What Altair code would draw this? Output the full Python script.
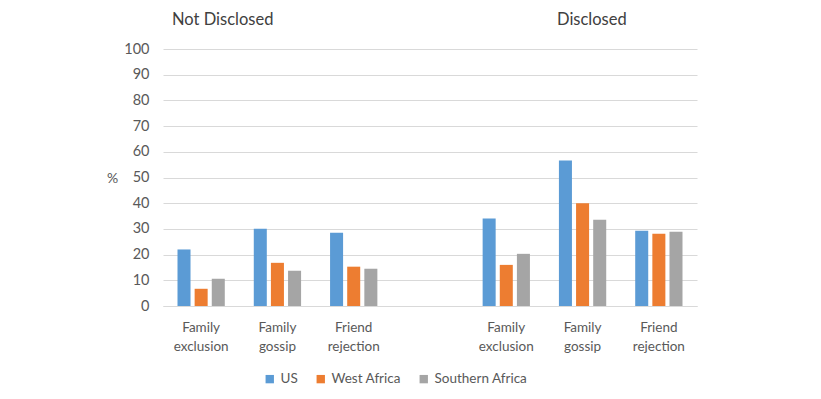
import altair as alt
import pandas as pd

groups = ["Not Disclosed", "Disclosed"]
categories = ["Family exclusion", "Family gossip", "Friend rejection"]
series = ["US", "West Africa", "Southern Africa"]
colors = ["#5B9BD5", "#ED7D31", "#A5A5A5"]

not_disclosed = {
    "US": [22.0, 30.1, 28.5],
    "West Africa": [6.7, 16.8, 15.3],
    "Southern Africa": [10.6, 13.7, 14.5],
}
disclosed = {
    "US": [34.0, 56.6, 29.3],
    "West Africa": [16.0, 40.0, 28.1],
    "Southern Africa": [20.3, 33.6, 28.9],
}

slots_nd = ["nd1", "nd2", "nd3"]
slots_d = ["d1", "d2", "d3"]
domain = slots_nd + ["gap"] + slots_d

rows = []
for slots, table in [(slots_nd, not_disclosed), (slots_d, disclosed)]:
    for s in series:
        for slot, cat, v in zip(slots, categories, table[s]):
            rows.append({"slot": slot, "category": cat, "series": s, "value": v})
df = pd.DataFrame(rows)

font = "Lato"

label_expr = (
    "(datum.value == 'nd1' || datum.value == 'd1') ? ['Family','exclusion'] : "
    "(datum.value == 'nd2' || datum.value == 'd2') ? ['Family','gossip'] : "
    "(datum.value == 'nd3' || datum.value == 'd3') ? ['Friend','rejection'] : ''"
)

bars = alt.Chart(df).mark_bar().encode(
    x=alt.X("slot:N", scale=alt.Scale(domain=domain, paddingInner=0.38, paddingOuter=0.19),
            axis=alt.Axis(title=None, labelExpr=label_expr, labelAngle=0, ticks=False,
                          domainColor="#D9D9D9", labelColor="#595959", labelFontSize=13.5,
                          labelFont=font, labelPadding=14, labelLineHeight=19,
                          labelBaseline="top")),
    xOffset=alt.XOffset("series:N", sort=series,
                        scale=alt.Scale(domain=series, paddingInner=0.24, paddingOuter=0)),
    y=alt.Y("value:Q", scale=alt.Scale(domain=[0, 100]),
            axis=alt.Axis(values=list(range(0, 101, 10)), title="%", titleAngle=0,
                          titleX=-51, titleY=129, titleAlign="center", titleBaseline="middle",
                          titleFontWeight="normal", titleFontSize=14, titleColor="#595959",
                          titleFont=font, labelFont=font, labelFontSize=14.5,
                          labelColor="#595959", ticks=False, domain=False, labelPadding=14,
                          gridColor="#D9D9D9")),
    color=alt.Color("series:N", sort=series,
                    scale=alt.Scale(domain=series, range=colors),
                    legend=alt.Legend(title=None, orient="none", direction="horizontal",
                                      legendX=100, legendY=323, symbolType="square",
                                      symbolSize=70, symbolStrokeWidth=0,
                                      labelFont=font, labelFontSize=13.5, labelColor="#595959",
                                      columnPadding=16, labelOffset=4)),
)

titles_df = pd.DataFrame({"t": [groups[0]], "t2": [groups[1]]})
t1 = alt.Chart(titles_df).mark_text(align="left", baseline="middle", fontSize=16.5,
                                     font=font, color="#404040").encode(
    text="t:N", x=alt.value(9), y=alt.value(-29))
t2 = alt.Chart(titles_df).mark_text(align="left", baseline="middle", fontSize=16.5,
                                     font=font, color="#404040").encode(
    text="t2:N", x=alt.value(394), y=alt.value(-29))

chart = alt.layer(bars, t1, t2).properties(
    width=534, height=257,
    autosize=alt.AutoSizeParams(type="none"),
    padding={"left": 155, "top": 41, "right": 100, "bottom": 80},
).configure_view(stroke=None)

chart.save("out.html", embed_options={"renderer": "svg", "actions": False})
